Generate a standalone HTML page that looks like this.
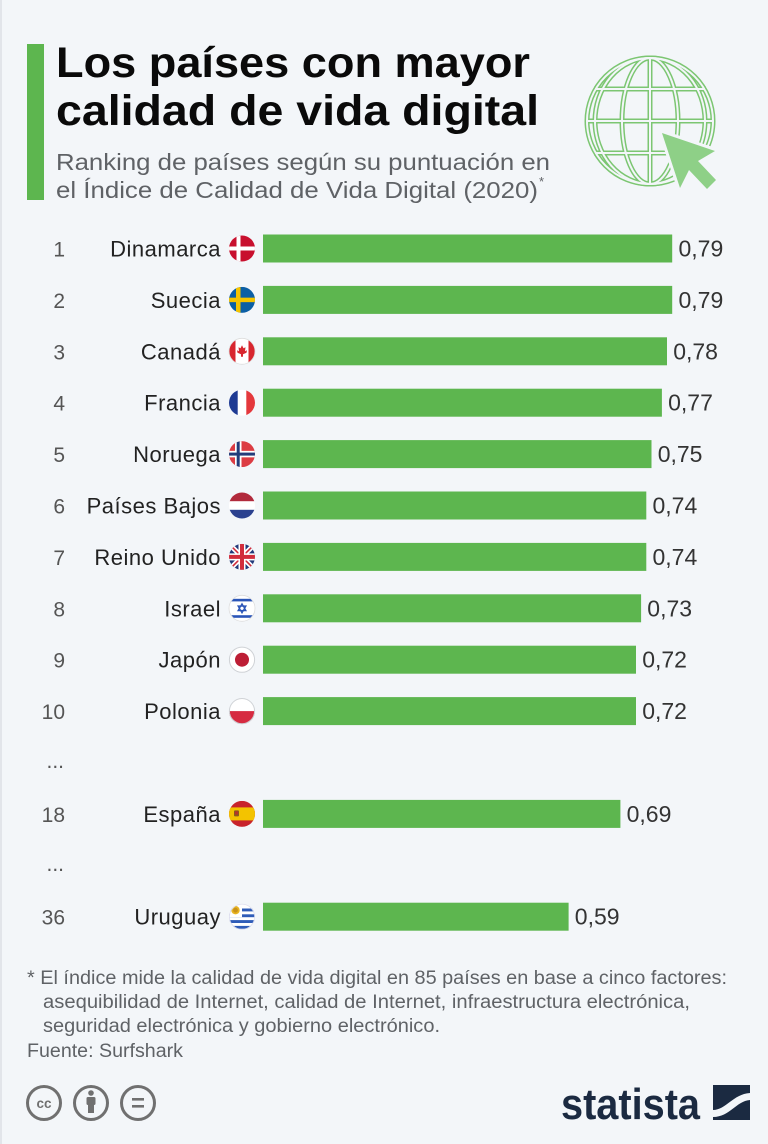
<!DOCTYPE html>
<html>
<head>
<meta charset="utf-8">
<style>
  html,body{margin:0;padding:0;background:#f3f6f9;}
  svg{display:block;}
  .t{font-family:"Liberation Sans",sans-serif;}
</style>
</head>
<body>
<svg width="768" height="1144" viewBox="0 0 768 1144" xmlns="http://www.w3.org/2000/svg">
  <defs>
    <clipPath id="fc"><circle cx="0" cy="0" r="13"/></clipPath>
  </defs>
  <rect x="0" y="0" width="768" height="1144" fill="#f3f6f9"/>
  <rect x="0" y="0" width="2" height="1144" fill="#e2e5ea"/>

  <!-- Header -->
  <rect x="27" y="44" width="17" height="156" fill="#5db64f"/>
  <text class="t" x="56" y="77" font-size="43" font-weight="bold" fill="#0a0a0a" textLength="474" lengthAdjust="spacingAndGlyphs">Los países con mayor</text>
  <text class="t" x="56" y="125" font-size="43" font-weight="bold" fill="#0a0a0a" textLength="483" lengthAdjust="spacingAndGlyphs">calidad de vida digital</text>
  <text class="t" x="56" y="170" font-size="23.5" fill="#5f6266" textLength="494" lengthAdjust="spacingAndGlyphs">Ranking de países según su puntuación en</text>
  <text class="t" x="56" y="198" font-size="23.5" fill="#5f6266" textLength="482" lengthAdjust="spacingAndGlyphs">el Índice de Calidad de Vida Digital (2020)</text>
  <text class="t" x="539" y="186" font-size="13" fill="#5f6266">*</text>

  <!-- Globe icon -->
  <g fill="none" stroke-linecap="butt">
    <g stroke="#7cc672" stroke-width="5">
      <circle cx="650" cy="121" r="63"/>
      <line x1="650" y1="58" x2="650" y2="184"/>
      <ellipse cx="650" cy="121" rx="28" ry="63"/>
      <ellipse cx="650" cy="121" rx="55" ry="63"/>
      <line x1="594" y1="89" x2="706" y2="89"/>
      <line x1="587" y1="121" x2="713" y2="121"/>
      <line x1="594" y1="153" x2="706" y2="153"/>
    </g>
    <g stroke="#f3f6f9" stroke-width="2">
      <circle cx="650" cy="121" r="63"/>
      <line x1="650" y1="59" x2="650" y2="183"/>
      <ellipse cx="650" cy="121" rx="28" ry="63"/>
      <ellipse cx="650" cy="121" rx="55" ry="63"/>
      <line x1="595" y1="89" x2="705" y2="89"/>
      <line x1="588" y1="121" x2="712" y2="121"/>
      <line x1="595" y1="153" x2="705" y2="153"/>
    </g>
  </g>
  <polygon points="662,133 715,151 698,161 716,180 707,189 689,170 680,188" fill="#8ed087" stroke="#f3f6f9" stroke-width="6" stroke-linejoin="round" style="paint-order:stroke"/>

  <!-- Rows -->
  <g class="t" font-size="21" fill="#555" text-anchor="end">
    <text x="65" y="256.5">1</text>
    <text x="65" y="307.9">2</text>
    <text x="65" y="359.3">3</text>
    <text x="65" y="410.7">4</text>
    <text x="65" y="462.1">5</text>
    <text x="65" y="513.5">6</text>
    <text x="65" y="564.9">7</text>
    <text x="65" y="616.3">8</text>
    <text x="65" y="667.7">9</text>
    <text x="65" y="719.1">10</text>
    <text x="64" y="768">...</text>
    <text x="65" y="821.9">18</text>
    <text x="64" y="871">...</text>
    <text x="65" y="924.7">36</text>
  </g>

  <g class="t" font-size="22" fill="#222" text-anchor="end" letter-spacing="0.5">
    <text x="221" y="256.5">Dinamarca</text>
    <text x="221" y="307.9">Suecia</text>
    <text x="221" y="359.3">Canadá</text>
    <text x="221" y="410.7">Francia</text>
    <text x="221" y="462.1">Noruega</text>
    <text x="221" y="513.5">Países Bajos</text>
    <text x="221" y="564.9">Reino Unido</text>
    <text x="221" y="616.3">Israel</text>
    <text x="221" y="667.7">Japón</text>
    <text x="221" y="719.1">Polonia</text>
    <text x="221" y="821.9">España</text>
    <text x="221" y="924.7">Uruguay</text>
  </g>

  <g fill="#5db64f">
    <rect x="263" y="234.5" width="409.2" height="28"/>
    <rect x="263" y="285.9" width="409.2" height="28"/>
    <rect x="263" y="337.3" width="404.0" height="28"/>
    <rect x="263" y="388.7" width="398.9" height="28"/>
    <rect x="263" y="440.1" width="388.5" height="28"/>
    <rect x="263" y="491.5" width="383.3" height="28"/>
    <rect x="263" y="542.9" width="383.3" height="28"/>
    <rect x="263" y="594.3" width="378.1" height="28"/>
    <rect x="263" y="645.7" width="373.0" height="28"/>
    <rect x="263" y="697.1" width="373.0" height="28"/>
    <rect x="263" y="799.9" width="357.4" height="28"/>
    <rect x="263" y="902.7" width="305.6" height="28"/>
  </g>

  <g class="t" font-size="23" fill="#333">
    <text x="678.5" y="256.5">0,79</text>
    <text x="678.5" y="307.9">0,79</text>
    <text x="673.2" y="359.3">0,78</text>
    <text x="668.1" y="410.7">0,77</text>
    <text x="657.7" y="462.1">0,75</text>
    <text x="652.5" y="513.5">0,74</text>
    <text x="652.5" y="564.9">0,74</text>
    <text x="647.3" y="616.3">0,73</text>
    <text x="642.2" y="667.7">0,72</text>
    <text x="642.2" y="719.1">0,72</text>
    <text x="626.6" y="821.9">0,69</text>
    <text x="574.8" y="924.7">0,59</text>
  </g>

  <!-- Flags -->
  <g transform="translate(242,248.5)"><g clip-path="url(#fc)">
    <rect x="-13" y="-13" width="26" height="26" fill="#c8102e"/>
    <rect x="-5.5" y="-13" width="4" height="26" fill="#fff"/>
    <rect x="-13" y="-2" width="26" height="4" fill="#fff"/>
  </g></g>
  <g transform="translate(242,299.9)"><g clip-path="url(#fc)">
    <rect x="-13" y="-13" width="26" height="26" fill="#0b5fa5"/>
    <rect x="-6" y="-13" width="4.5" height="26" fill="#f5c400"/>
    <rect x="-13" y="-2.25" width="26" height="4.5" fill="#f5c400"/>
  </g></g>
  <g transform="translate(242,351.3)"><g clip-path="url(#fc)">
    <rect x="-13" y="-13" width="26" height="26" fill="#fff"/>
    <rect x="-13" y="-13" width="6.5" height="26" fill="#d8262f"/>
    <rect x="6.5" y="-13" width="6.5" height="26" fill="#d8262f"/>
    <polygon points="0,-6 1.5,-3 3.5,-4 3,0 5,-1 4.5,1.5 1,3 1,5.5 -1,5.5 -1,3 -4.5,1.5 -5,-1 -3,0 -3.5,-4 -1.5,-3" fill="#d8262f"/>
  </g><circle r="13" fill="none" stroke="#ddd" stroke-width="0.8"/></g>
  <g transform="translate(242,402.7)"><g clip-path="url(#fc)">
    <rect x="-13" y="-13" width="26" height="26" fill="#fff"/>
    <rect x="-13" y="-13" width="8.7" height="26" fill="#1e3a93"/>
    <rect x="4.3" y="-13" width="8.7" height="26" fill="#e4383c"/>
  </g></g>
  <g transform="translate(242,454.1)"><g clip-path="url(#fc)">
    <rect x="-13" y="-13" width="26" height="26" fill="#dc3c43"/>
    <rect x="-7" y="-13" width="6.5" height="26" fill="#fff"/>
    <rect x="-13" y="-3.25" width="26" height="6.5" fill="#fff"/>
    <rect x="-5.3" y="-13" width="3" height="26" fill="#233c7a"/>
    <rect x="-13" y="-1.5" width="26" height="3" fill="#233c7a"/>
  </g></g>
  <g transform="translate(242,505.5)"><g clip-path="url(#fc)">
    <rect x="-13" y="-13" width="26" height="26" fill="#fff"/>
    <rect x="-13" y="-13" width="26" height="8.7" fill="#b12a3c"/>
    <rect x="-13" y="4.3" width="26" height="8.7" fill="#2b418f"/>
  </g></g>
  <g transform="translate(242,556.9)"><g clip-path="url(#fc)">
    <rect x="-13" y="-13" width="26" height="26" fill="#22397a"/>
    <line x1="-13" y1="-13" x2="13" y2="13" stroke="#fff" stroke-width="5"/>
    <line x1="13" y1="-13" x2="-13" y2="13" stroke="#fff" stroke-width="5"/>
    <line x1="-13" y1="-13" x2="13" y2="13" stroke="#d22d3c" stroke-width="1.6"/>
    <line x1="13" y1="-13" x2="-13" y2="13" stroke="#d22d3c" stroke-width="1.6"/>
    <rect x="-3.5" y="-13" width="7" height="26" fill="#fff"/>
    <rect x="-13" y="-3.5" width="26" height="7" fill="#fff"/>
    <rect x="-2" y="-13" width="4" height="26" fill="#d22d3c"/>
    <rect x="-13" y="-2" width="26" height="4" fill="#d22d3c"/>
  </g></g>
  <g transform="translate(242,608.3)"><g clip-path="url(#fc)">
    <rect x="-13" y="-13" width="26" height="26" fill="#fff"/>
    <rect x="-13" y="-9.5" width="26" height="2.6" fill="#2a55b8"/>
    <rect x="-13" y="6.9" width="26" height="2.6" fill="#2a55b8"/>
    <polygon points="0,-4.5 3.9,2.25 -3.9,2.25" fill="none" stroke="#2a55b8" stroke-width="1.3"/>
    <polygon points="0,4.5 3.9,-2.25 -3.9,-2.25" fill="none" stroke="#2a55b8" stroke-width="1.3"/>
  </g><circle r="13" fill="none" stroke="#ddd" stroke-width="0.8"/></g>
  <g transform="translate(242,659.7)"><g clip-path="url(#fc)">
    <rect x="-13" y="-13" width="26" height="26" fill="#fff"/>
    <circle r="7" fill="#bd1e35"/>
  </g><circle r="12.6" fill="none" stroke="#cfd2d6" stroke-width="1"/></g>
  <g transform="translate(242,711.1)"><g clip-path="url(#fc)">
    <rect x="-13" y="-13" width="26" height="26" fill="#fff"/>
    <rect x="-13" y="0" width="26" height="13" fill="#d62b41"/>
  </g><circle r="12.6" fill="none" stroke="#cfd2d6" stroke-width="1"/></g>
  <g transform="translate(242,813.9)"><g clip-path="url(#fc)">
    <rect x="-13" y="-13" width="26" height="26" fill="#c8232c"/>
    <rect x="-13" y="-6.5" width="26" height="13" fill="#f3c300"/>
    <rect x="-8" y="-3.5" width="5" height="6" rx="1" fill="#8a5a1e"/>
    <rect x="-7" y="-2.5" width="3" height="3" fill="#b8322a"/>
  </g></g>
  <g transform="translate(242,916.7)"><g clip-path="url(#fc)">
    <rect x="-13" y="-13" width="26" height="26" fill="#fff"/>
    <rect x="-13" y="-8.2" width="26" height="2.9" fill="#2f5cb8"/>
    <rect x="-13" y="-2.4" width="26" height="2.9" fill="#2f5cb8"/>
    <rect x="-13" y="3.4" width="26" height="2.9" fill="#2f5cb8"/>
    <rect x="-13" y="9.2" width="26" height="2.9" fill="#2f5cb8"/>
    <rect x="-13" y="-13" width="13" height="13.5" fill="#fff"/>
    <circle cx="-6.5" cy="-6.5" r="4.2" fill="#e8b420"/>
    <circle cx="-6.5" cy="-6.5" r="2.4" fill="#c8921a"/>
  </g><circle r="12.6" fill="none" stroke="#dde" stroke-width="0.8"/></g>

  <!-- Footer -->
  <g class="t" font-size="19" fill="#5f6266">
    <text x="27" y="984" textLength="700" lengthAdjust="spacingAndGlyphs">* El índice mide la calidad de vida digital en 85 países en base a cinco factores:</text>
    <text x="43" y="1008" textLength="647" lengthAdjust="spacingAndGlyphs">asequibilidad de Internet, calidad de Internet, infraestructura electrónica,</text>
    <text x="43" y="1032" textLength="397" lengthAdjust="spacingAndGlyphs">seguridad electrónica y gobierno electrónico.</text>
    <text x="27" y="1057" textLength="156" lengthAdjust="spacingAndGlyphs">Fuente: Surfshark</text>
  </g>

  <!-- CC icons -->
  <g fill="none" stroke="#707070" stroke-width="3">
    <circle cx="44" cy="1103" r="16.5"/>
    <circle cx="91" cy="1103" r="16.5"/>
    <circle cx="138" cy="1103" r="16.5"/>
  </g>
  <text x="44" y="1108" text-anchor="middle" font-family="Liberation Sans, sans-serif" font-size="13.5" font-weight="bold" fill="#707070">cc</text>
  <circle cx="91" cy="1093" r="2.8" fill="#707070"/>
  <rect x="86.5" y="1097" width="9" height="8" rx="1.5" fill="#707070"/>
  <rect x="88" y="1104" width="6" height="9" fill="#707070"/>
  <rect x="132" y="1098" width="12" height="2.6" fill="#707070"/>
  <rect x="132" y="1105" width="12" height="2.6" fill="#707070"/>

  <!-- Statista logo -->
  <text x="561" y="1119" font-family="Liberation Sans, sans-serif" font-size="44" font-weight="bold" fill="#1b2a41" textLength="139" lengthAdjust="spacingAndGlyphs">statista</text>
  <rect x="713" y="1085" width="37" height="35" fill="#1b2a41"/>
  <path d="M713,1110 C726,1110 733,1094 750,1093 L750,1100 C736,1101 730,1117 713,1117 Z" fill="#f3f6f9"/>
</svg>
</body>
</html>
